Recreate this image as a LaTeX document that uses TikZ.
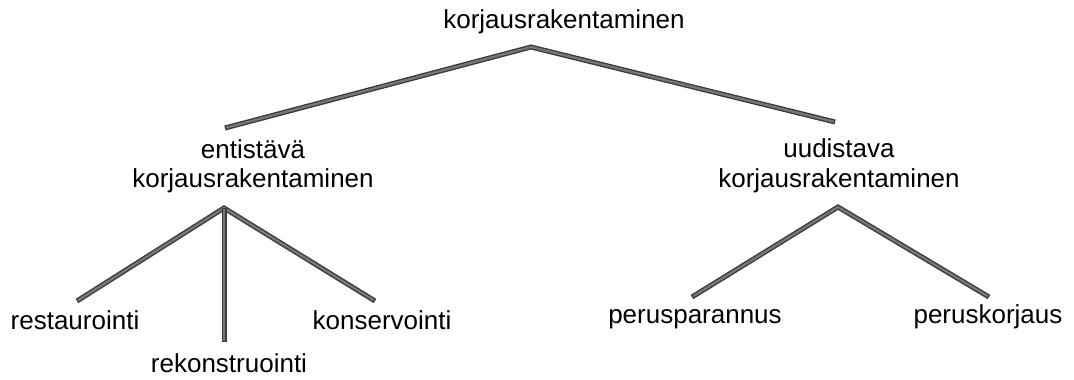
\documentclass[tikz,border=0pt]{standalone}
\usepackage{fontspec}
\setmainfont{Liberation Sans}
\usepackage{tikz}
\definecolor{edge}{RGB}{60, 60, 60}
\definecolor{core}{RGB}{120, 120, 120}

\begin{document}
\begin{tikzpicture}[x=1pt, y=-1pt,
    lbl/.style={inner sep=0pt, anchor=base, align=center, font=\fontsize{26}{29.5}\selectfont},
    branch/.style={line width=5pt, draw=edge, line join=miter,
        postaction={draw=core, line width=2.2pt, shorten <=1.3pt, shorten >=1.3pt}}]
    \useasboundingbox (0,0) rectangle (1074,380);

    \node[lbl] (root) at (564,28) {korjausrakentaminen};
    \node[lbl] (old) at (253,187.5) {entistävä\\korjausrakentaminen};
    \node[lbl] (new) at (839,187) {uudistava\\korjausrakentaminen};

    \node[lbl] (rest) at (75,329) {restaurointi};
    \node[lbl] (reko) at (229,372) {rekonstruointi};
    \node[lbl] (kons) at (382,329) {konservointi};
    \node[lbl] (para) at (695,323) {perusparannus};
    \node[lbl] (kor) at (988,323) {peruskorjaus};

    \coordinate (R) at (531,47);
    \coordinate (Rl) at (225,128);
    \coordinate (Rr) at (835,122);
    \coordinate (A) at (224,208);
    \coordinate (Al) at (77,301);
    \coordinate (Am) at (224,342);
    \coordinate (Ar) at (375,301);
    \coordinate (B) at (838,207);
    \coordinate (Bl) at (692,297);
    \coordinate (Br) at (989,297);

    % Tree branches
    \draw[branch] (Rl) -- (R) -- (Rr);
    \draw[branch] (Al) -- (A) -- (Ar);
    \draw[branch] (A) -- (Am);
    \draw[branch] (Bl) -- (B) -- (Br);
\end{tikzpicture}
\end{document}
